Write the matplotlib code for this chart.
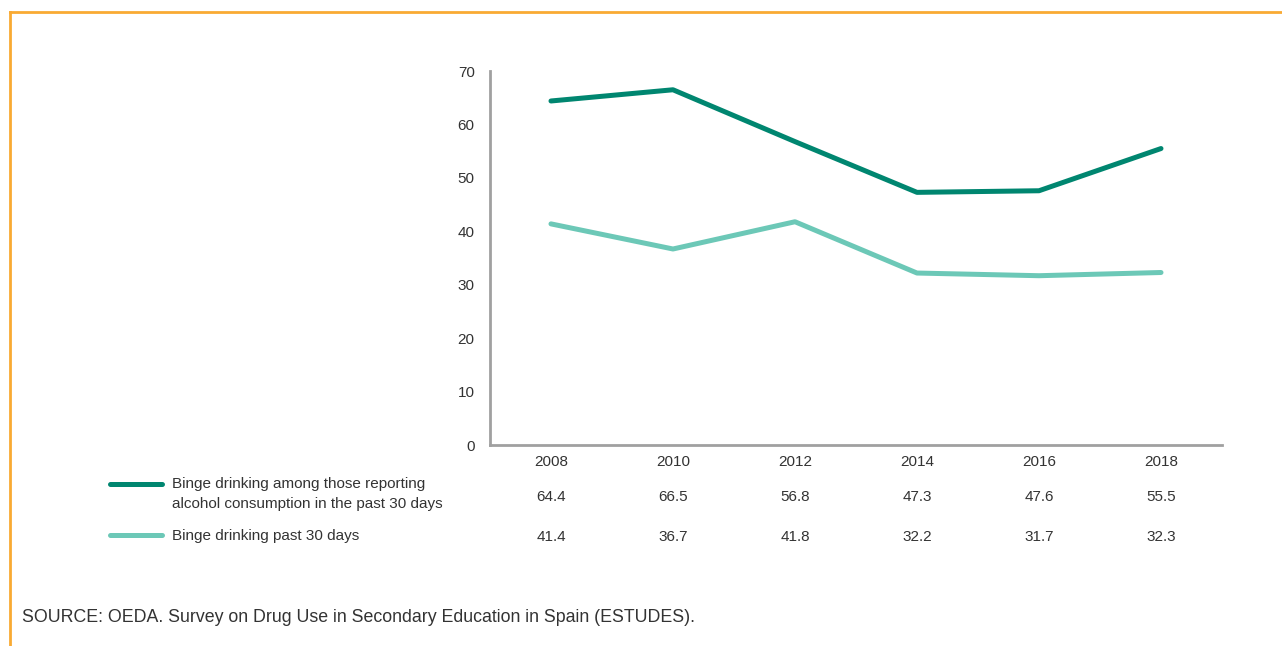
import matplotlib
matplotlib.use("Agg")
import matplotlib.pyplot as plt
from matplotlib.lines import Line2D

plt.rcParams['font.family'] = ['Liberation Sans', 'DejaVu Sans']

years = [2008, 2010, 2012, 2014, 2016, 2018]
binge_among_drinkers = [64.4, 66.5, 56.8, 47.3, 47.6, 55.5]
binge_past_30 = [41.4, 36.7, 41.8, 32.2, 31.7, 32.3]
series_labels = ["Binge drinking among those reporting\nalcohol consumption in the past 30 days",
                 "Binge drinking past 30 days"]
source_text = "SOURCE: OEDA. Survey on Drug Use in Secondary Education in Spain (ESTUDES)."

dark_teal = '#008670'
light_teal = '#6cc8b7'
text_col = '#333333'
axis_col = '#a0a0a0'

fig = plt.figure(figsize=(12.82, 6.46), dpi=100)
fig.patch.set_facecolor('white')
ax = fig.add_axes([0.3822, 0.311, 0.5710, 0.579])

ax.plot(years, binge_among_drinkers, color=dark_teal, linewidth=3.6, solid_capstyle='round', solid_joinstyle='round')
ax.plot(years, binge_past_30, color=light_teal, linewidth=3.6, solid_capstyle='round', solid_joinstyle='round')

ax.set_xlim(2007, 2019)
ax.set_ylim(0, 70)
ax.set_yticks(range(0, 71, 10))
ax.set_xticks(years)
ax.tick_params(axis='both', length=0, labelsize=11, colors=text_col)
ax.tick_params(axis='y', pad=11)
ax.tick_params(axis='x', pad=7)
for spine in ['top', 'right']:
    ax.spines[spine].set_visible(False)
for spine in ['left', 'bottom']:
    ax.spines[spine].set_color(axis_col)
    ax.spines[spine].set_linewidth(2)

# data table under the x axis
row_y = [497, 537]
for vals, y in zip([binge_among_drinkers, binge_past_30], row_y):
    for yr, v in zip(years, vals):
        ax.annotate(f"{v:.1f}", xy=(yr, 0), xycoords=('data', 'axes fraction'),
                    xytext=(0, -(y - 445)), textcoords='offset pixels',
                    ha='center', va='center', fontsize=11, color=text_col)

# legend keys
W, H = 1282, 646
for color, ly, label, ty in [(dark_teal, 484, series_labels[0], 494), (light_teal, 535, series_labels[1], 536)]:
    fig.add_artist(Line2D([110 / W, 162 / W], [1 - ly / H, 1 - ly / H], color=color,
                          linewidth=3.6, solid_capstyle='round'))
    fig.text(172 / W, 1 - ty / H, label, ha='left', va='center', fontsize=11,
             color=text_col, linespacing=1.5)

fig.text(22 / W, 1 - 618 / H, source_text, ha='left', va='center', fontsize=12.8, color=text_col)

# orange frame on the top and left edges
frame_col = '#f9aa33'
fig.add_artist(Line2D([10 / W, 1.0], [1 - 12 / H, 1 - 12 / H], color=frame_col, linewidth=2))
fig.add_artist(Line2D([10 / W, 10 / W], [0, 1 - 12 / H], color=frame_col, linewidth=2))

fig.savefig('out.png', dpi=100)
